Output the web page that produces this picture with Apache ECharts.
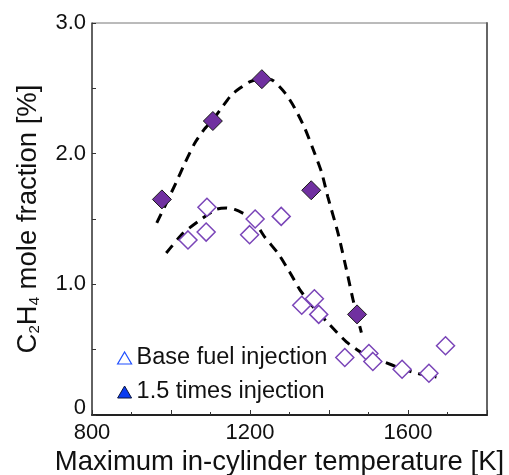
<!DOCTYPE html>
<html>
<head>
<meta charset="utf-8">
<script src="https://cdn.jsdelivr.net/npm/echarts@6/dist/echarts.min.js"></script>
<style>html,body{margin:0;padding:0;background:#fff}#c{width:509px;height:475px}</style>
</head>
<body>
<div id="c"></div>
<script>
// Base fuel injection (open diamonds): [temperature K, C2H4 %]
const baseT = [1043, 1089, 1091, 1199, 1213, 1279, 1331, 1363, 1374, 1440, 1501, 1511, 1585, 1653, 1695];
const baseV = [1.34, 1.40, 1.59, 1.38, 1.50, 1.52, 0.84, 0.89, 0.77, 0.44, 0.47, 0.41, 0.35, 0.32, 0.53];
// 1.5 times injection (filled diamonds)
const highT = [977, 1106, 1230, 1355, 1471];
const highV = [1.65, 2.25, 2.57, 1.72, 0.77];
// Dashed trend curve for 1.5 times injection
const fitHighT = [964, 988, 1013, 1034, 1060, 1085, 1106, 1127, 1153, 1174, 1199, 1229, 1258, 1290, 1313, 1338, 1359, 1381, 1397, 1423, 1448, 1461, 1482];
const fitHighV = [1.47, 1.62, 1.78, 1.92, 2.08, 2.19, 2.26, 2.345, 2.45, 2.50, 2.55, 2.575, 2.56, 2.46, 2.35, 2.20, 2.04, 1.86, 1.67, 1.39, 1.06, 0.88, 0.63];
// Dashed trend curve for base fuel injection
const fitBaseT = [988, 1030, 1068, 1115, 1140, 1161, 1191, 1216, 1237, 1271, 1300, 1326, 1359, 1402, 1444, 1486, 1537, 1579, 1621, 1672];
const fitBaseV = [1.24, 1.39, 1.48, 1.575, 1.585, 1.573, 1.53, 1.46, 1.363, 1.237, 1.096, 0.96, 0.83, 0.69, 0.56, 0.47, 0.41, 0.36, 0.32, 0.29];
const xLabels = [800, 1200, 1600];
const yLabels = [0, 1, 2, 3];
const seriesNames = ['Base fuel injection', '1.5 times injection'];

const zip = (a, b) => a.map((v, i) => [v, b[i]]);
const FONT = 'Liberation Sans, Arial, sans-serif';

const chart = echarts.init(document.getElementById('c'), null, {renderer: 'canvas'});
chart.setOption({
  animation: false,
  backgroundColor: '#fff',
  grid: {left: 92, right: 22, top: 23, bottom: 60, show: true, borderColor: '#777', borderWidth: 1, outerBoundsMode: 'none'},
  legend: {
    left: 112, top: 341, orient: 'vertical', itemGap: 10,
    itemWidth: 14, itemHeight: 12,
    textStyle: {fontFamily: FONT, fontSize: 23.5, color: '#111', lineHeight: 23},
    data: [
      {name: seriesNames[0], icon: 'triangle', itemStyle: {color: '#fff', borderColor: '#1f4fff', borderWidth: 1.2, opacity: 1}},
      {name: seriesNames[1], icon: 'triangle', itemStyle: {color: '#0a3cf0', borderColor: '#0a1440', borderWidth: 1, opacity: 1}}
    ]
  },
  xAxis: [{
    type: 'value', min: 800, max: 1800, interval: 200,
    name: 'Maximum in-cylinder temperature [K]', nameLocation: 'middle', nameGap: 31,
    nameTextStyle: {fontFamily: FONT, fontSize: 27.5, color: '#111', padding: [0, 20, 0, 0]},
    axisLine: {show: true, lineStyle: {color: '#222', width: 2}},
    axisTick: {show: true, inside: true, length: 5, lineStyle: {color: '#333'}},
    minorTick: {show: true, splitNumber: 2, length: 3, lineStyle: {color: '#333'}},
    splitLine: {show: false},
    axisLabel: {fontFamily: FONT, fontSize: 22, color: '#111', margin: 7,
      formatter: v => xLabels.includes(v) ? String(v) : ''}
  }],
  yAxis: [{
    type: 'value', min: 0, max: 3, interval: 0.5,
    name: 'C{sub|2}H{sub|4} mole fraction [%]', nameLocation: 'middle', nameGap: 50,
    nameTextStyle: {fontFamily: FONT, fontSize: 27.5, color: '#111',
      rich: {sub: {fontFamily: FONT, fontSize: 15, color: '#111', verticalAlign: 'bottom', lineHeight: 15}}},
    axisLine: {show: true, lineStyle: {color: '#444', width: 1.5}},
    axisTick: {show: true, inside: true, length: 4, lineStyle: {color: '#333'}},
    splitLine: {show: false},
    axisLabel: {fontFamily: FONT, fontSize: 22, color: '#111', margin: 6,
      formatter: v => {
        if (v === 0) return '{z|0}';
        return yLabels.includes(v) ? v.toFixed(1) : '';
      },
      rich: {z: {fontFamily: FONT, fontSize: 22, color: '#111', padding: [0, 0, 14, 0]}}}
  }, {
    type: 'value', min: 0, max: 3, position: 'right',
    axisLine: {show: true, lineStyle: {color: '#666', width: 2}},
    axisTick: {show: false}, axisLabel: {show: false}, splitLine: {show: false}
  }],
  series: [
    {
      type: 'line', name: 'fitHigh', data: zip(fitHighT, fitHighV), smooth: 0.2, showSymbol: false,
      lineStyle: {color: '#000', width: 3, type: [10, 7]}, z: 2, silent: true
    },
    {
      type: 'line', name: 'fitBase', data: zip(fitBaseT, fitBaseV), smooth: 0.2, showSymbol: false,
      lineStyle: {color: '#000', width: 3, type: [10, 7]}, z: 2, silent: true
    },
    {
      type: 'scatter', name: seriesNames[0], data: zip(baseT, baseV), symbol: 'diamond', symbolSize: 18,
      itemStyle: {color: '#fff', borderColor: '#7a45b8', borderWidth: 1.5, opacity: 1}, z: 3
    },
    {
      type: 'scatter', name: seriesNames[1], data: zip(highT, highV), symbol: 'diamond', symbolSize: 19,
      itemStyle: {color: '#7030a0', borderColor: '#1a1a1a', borderWidth: 1, opacity: 1}, z: 4
    }
  ]
});
</script>
</body>
</html>
